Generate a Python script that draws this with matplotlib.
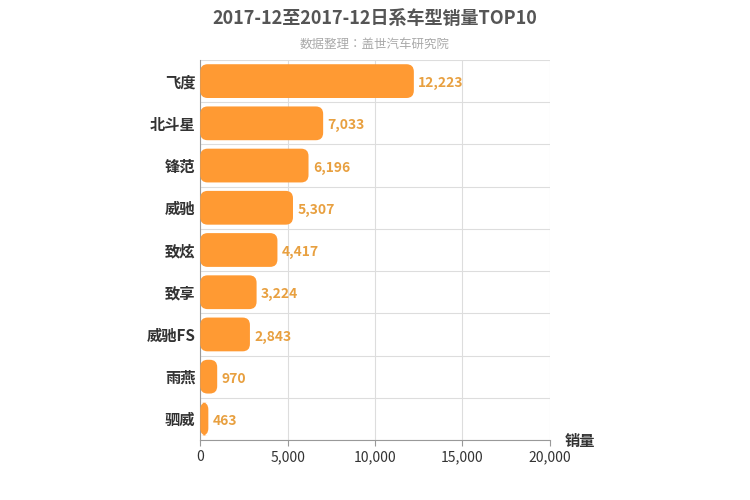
import matplotlib
matplotlib.use("Agg")
import matplotlib.pyplot as plt
from matplotlib import font_manager
from matplotlib.patches import FancyBboxPatch

# 使用可用的CJK黑体
cjk = [f.name for f in font_manager.fontManager.ttflist if "Sans CJK" in f.name]
pref = [n for n in cjk if n.endswith("SC")] or cjk
plt.rcParams["font.family"] = "sans-serif"
plt.rcParams["font.sans-serif"] = pref[:1] + ["DejaVu Sans"]

models = ["飞度", "北斗星", "锋范", "威驰", "致炫", "致享", "威驰FS", "雨燕", "驷威"]
sales = [12223, 7033, 6196, 5307, 4417, 3224, 2843, 970, 463]
xticks = [0, 5000, 10000, 15000, 20000]

fig = plt.figure(figsize=(7.5, 5), dpi=100)
ax = fig.add_axes([0.267, 0.12, 0.466, 0.76])

n = len(models)
h = 0.8
for i, v in enumerate(sales):
    y = n - 1 - i
    box = FancyBboxPatch((0, y - h / 2), v, h,
                         boxstyle="round,pad=0,rounding_size=420",
                         mutation_aspect=0.00042,
                         fc="#FF9A33", ec="none", zorder=3)
    ax.add_patch(box)
    ax.text(v + 250, y - 0.05, f"{v:,}", va="center", ha="left",
            fontsize=10, fontweight="bold", color="#E8A040", zorder=4)

ax.set_xlim(0, 20000)
ax.set_ylim(-0.5, n - 0.5)
ax.set_xticks(xticks)
ax.set_xticklabels([f"{t:,}" for t in xticks], fontsize=10, color="#333333")
ax.set_yticks(range(n))
ax.set_yticklabels(models[::-1], fontsize=11, fontweight="bold", color="#333333")
ax.set_yticks([i - 0.5 for i in range(n + 1)], minor=True)
ax.grid(True, axis="x", color="#dddddd", zorder=0)
ax.grid(True, axis="y", which="minor", color="#dddddd", zorder=0)
ax.tick_params(axis="y", which="both", length=0)
ax.tick_params(axis="x", length=4, color="#999999")
for s in ["top", "right"]:
    ax.spines[s].set_visible(False)
ax.spines["left"].set_color("#999999")
ax.spines["bottom"].set_color("#999999")

fig.text(0.5, 0.962, "2017-12至2017-12日系车型销量TOP10", ha="center", va="center",
         fontsize=13, fontweight="bold", color="#555555")
fig.text(0.5, 0.912, "数据整理：盖世汽车研究院", ha="center", va="center",
         fontsize=9, color="#aaaaaa")
fig.text(0.753, 0.118, "销量", ha="left", va="center", fontsize=11,
         fontweight="bold", color="#333333")

fig.savefig("out.png")
